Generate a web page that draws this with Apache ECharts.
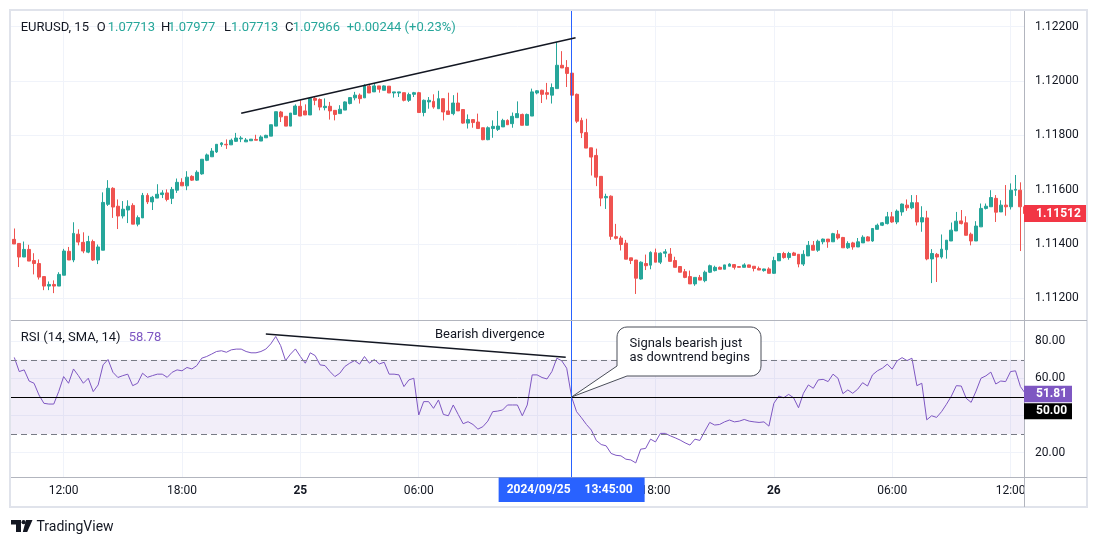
<!DOCTYPE html>
<html lang="en">
<head>
<meta charset="UTF-8">
<title>EURUSD 15 - RSI</title>
<script src="https://cdn.jsdelivr.net/npm/echarts@6/dist/echarts.min.js"></script>
<style>
  html, body { margin: 0; padding: 0; background: #fff; }
  #main { width: 1098px; height: 546px; }
</style>
</head>
<body>
<div id="main"></div>
<script>
// 15 min bars, index 0 = 24 Sep 09:30 ; each row is [open, close, low, high]
var candles = [
  [1.11417, 1.11400, 1.11400, 1.11457], [1.11402, 1.11352, 1.11315, 1.11402], [1.11352, 1.11380, 1.11352, 1.11409],
  [1.11380, 1.11337, 1.11337, 1.11397], [1.11339, 1.11328, 1.11288, 1.11366], [1.11328, 1.11278, 1.11269, 1.11343],
  [1.11280, 1.11245, 1.11230, 1.11280], [1.11245, 1.11251, 1.11230, 1.11262], [1.11251, 1.11245, 1.11219, 1.11266],
  [1.11245, 1.11288, 1.11245, 1.11296], [1.11285, 1.11374, 1.11285, 1.11382], [1.11373, 1.11341, 1.11341, 1.11389],
  [1.11341, 1.11439, 1.11333, 1.11480], [1.11436, 1.11407, 1.11395, 1.11454], [1.11406, 1.11374, 1.11366, 1.11443],
  [1.11370, 1.11409, 1.11366, 1.11430], [1.11409, 1.11341, 1.11338, 1.11416], [1.11341, 1.11389, 1.11326, 1.11398],
  [1.11377, 1.11553, 1.11377, 1.11590], [1.11546, 1.11605, 1.11540, 1.11635], [1.11605, 1.11536, 1.11496, 1.11609],
  [1.11539, 1.11503, 1.11455, 1.11564], [1.11503, 1.11528, 1.11494, 1.11558], [1.11525, 1.11539, 1.11477, 1.11561],
  [1.11542, 1.11473, 1.11473, 1.11550], [1.11473, 1.11497, 1.11465, 1.11505], [1.11496, 1.11579, 1.11496, 1.11588],
  [1.11579, 1.11555, 1.11547, 1.11587], [1.11555, 1.11572, 1.11525, 1.11577], [1.11569, 1.11583, 1.11569, 1.11620],
  [1.11582, 1.11588, 1.11569, 1.11598], [1.11588, 1.11564, 1.11557, 1.11601], [1.11568, 1.11601, 1.11547, 1.11610],
  [1.11598, 1.11627, 1.11588, 1.11641], [1.11627, 1.11614, 1.11614, 1.11642], [1.11614, 1.11646, 1.11598, 1.11668],
  [1.11649, 1.11635, 1.11632, 1.11653], [1.11635, 1.11664, 1.11632, 1.11671], [1.11658, 1.11712, 1.11655, 1.11712],
  [1.11708, 1.11728, 1.11705, 1.11733], [1.11721, 1.11742, 1.11721, 1.11753], [1.11739, 1.11767, 1.11735, 1.11767],
  [1.11766, 1.11772, 1.11758, 1.11775], [1.11767, 1.11765, 1.11750, 1.11785], [1.11765, 1.11782, 1.11765, 1.11788],
  [1.11778, 1.11790, 1.11776, 1.11809], [1.11787, 1.11790, 1.11775, 1.11797], [1.11776, 1.11783, 1.11776, 1.11790],
  [1.11780, 1.11786, 1.11780, 1.11786], [1.11785, 1.11782, 1.11782, 1.11802], [1.11779, 1.11794, 1.11779, 1.11800],
  [1.11791, 1.11800, 1.11791, 1.11802], [1.11797, 1.11839, 1.11797, 1.11839], [1.11834, 1.11887, 1.11834, 1.11887],
  [1.11886, 1.11868, 1.11849, 1.11890], [1.11870, 1.11834, 1.11834, 1.11870], [1.11834, 1.11882, 1.11834, 1.11882],
  [1.11877, 1.11908, 1.11877, 1.11914], [1.11907, 1.11871, 1.11871, 1.11929], [1.11890, 1.11875, 1.11875, 1.11914],
  [1.11875, 1.11936, 1.11875, 1.11939], [1.11936, 1.11929, 1.11911, 1.11941], [1.11932, 1.11904, 1.11892, 1.11936],
  [1.11902, 1.11907, 1.11892, 1.11936], [1.11907, 1.11890, 1.11858, 1.11923], [1.11892, 1.11877, 1.11855, 1.11892],
  [1.11880, 1.11896, 1.11880, 1.11911], [1.11893, 1.11923, 1.11893, 1.11925], [1.11917, 1.11939, 1.11914, 1.11941],
  [1.11938, 1.11948, 1.11929, 1.11960], [1.11948, 1.11935, 1.11917, 1.11954], [1.11938, 1.11982, 1.11938, 1.11988],
  [1.11981, 1.11956, 1.11956, 1.11988], [1.11960, 1.11982, 1.11960, 1.11991], [1.11982, 1.11970, 1.11957, 1.11982],
  [1.11966, 1.11982, 1.11966, 1.11984], [1.11981, 1.11956, 1.11956, 1.11981], [1.11956, 1.11960, 1.11939, 1.11960],
  [1.11956, 1.11960, 1.11941, 1.11960], [1.11957, 1.11929, 1.11925, 1.11957], [1.11929, 1.11950, 1.11923, 1.11957],
  [1.11951, 1.11957, 1.11941, 1.11960], [1.11957, 1.11884, 1.11884, 1.11960], [1.11884, 1.11929, 1.11870, 1.11932],
  [1.11923, 1.11929, 1.11898, 1.11941], [1.11925, 1.11904, 1.11898, 1.11951], [1.11898, 1.11935, 1.11898, 1.11964],
  [1.11935, 1.11886, 1.11855, 1.11935], [1.11890, 1.11877, 1.11877, 1.11957], [1.11880, 1.11919, 1.11874, 1.11948],
  [1.11919, 1.11890, 1.11890, 1.11957], [1.11895, 1.11845, 1.11843, 1.11895], [1.11845, 1.11858, 1.11825, 1.11877],
  [1.11858, 1.11847, 1.11828, 1.11858], [1.11849, 1.11825, 1.11825, 1.11880], [1.11828, 1.11784, 1.11782, 1.11828],
  [1.11784, 1.11828, 1.11782, 1.11833], [1.11825, 1.11833, 1.11791, 1.11855], [1.11822, 1.11834, 1.11816, 1.11890],
  [1.11831, 1.11855, 1.11831, 1.11861], [1.11855, 1.11839, 1.11839, 1.11859], [1.11843, 1.11870, 1.11828, 1.11884],
  [1.11865, 1.11880, 1.11865, 1.11925], [1.11877, 1.11837, 1.11837, 1.11880], [1.11837, 1.11877, 1.11837, 1.11880],
  [1.11871, 1.11960, 1.11871, 1.11972], [1.11956, 1.11964, 1.11951, 1.11966], [1.11966, 1.11951, 1.11919, 1.11968],
  [1.11957, 1.11951, 1.11932, 1.11993], [1.11948, 1.11976, 1.11917, 1.11991], [1.11972, 1.12058, 1.11972, 1.12144],
  [1.12058, 1.12048, 1.12048, 1.12110], [1.12050, 1.12028, 1.11978, 1.12077], [1.12029, 1.11948, 1.11948, 1.12073],
  [1.11951, 1.11852, 1.11845, 1.11954], [1.11855, 1.11809, 1.11790, 1.11865], [1.11810, 1.11753, 1.11753, 1.11861],
  [1.11754, 1.11720, 1.11652, 1.11754], [1.11726, 1.11646, 1.11613, 1.11751], [1.11649, 1.11569, 1.11539, 1.11649],
  [1.11570, 1.11575, 1.11529, 1.11585], [1.11576, 1.11428, 1.11415, 1.11579], [1.11427, 1.11421, 1.11417, 1.11474],
  [1.11422, 1.11398, 1.11376, 1.11430], [1.11403, 1.11344, 1.11344, 1.11415], [1.11349, 1.11339, 1.11326, 1.11349],
  [1.11341, 1.11274, 1.11216, 1.11341], [1.11271, 1.11333, 1.11269, 1.11336], [1.11328, 1.11320, 1.11304, 1.11361],
  [1.11322, 1.11369, 1.11307, 1.11373], [1.11368, 1.11333, 1.11333, 1.11383], [1.11333, 1.11366, 1.11326, 1.11369],
  [1.11366, 1.11371, 1.11351, 1.11381], [1.11363, 1.11336, 1.11336, 1.11385], [1.11339, 1.11314, 1.11314, 1.11353],
  [1.11317, 1.11296, 1.11296, 1.11317], [1.11298, 1.11277, 1.11274, 1.11308], [1.11280, 1.11253, 1.11253, 1.11302],
  [1.11253, 1.11277, 1.11246, 1.11277], [1.11277, 1.11267, 1.11267, 1.11286], [1.11265, 1.11296, 1.11259, 1.11302],
  [1.11296, 1.11320, 1.11293, 1.11324], [1.11302, 1.11314, 1.11299, 1.11320], [1.11314, 1.11307, 1.11307, 1.11317],
  [1.11307, 1.11323, 1.11307, 1.11323], [1.11318, 1.11326, 1.11318, 1.11329], [1.11324, 1.11314, 1.11306, 1.11326],
  [1.11317, 1.11314, 1.11314, 1.11317], [1.11314, 1.11323, 1.11314, 1.11329], [1.11323, 1.11314, 1.11314, 1.11324],
  [1.11318, 1.11310, 1.11299, 1.11318], [1.11310, 1.11304, 1.11304, 1.11317], [1.11302, 1.11308, 1.11298, 1.11309],
  [1.11308, 1.11292, 1.11292, 1.11314], [1.11292, 1.11339, 1.11290, 1.11353], [1.11338, 1.11365, 1.11338, 1.11365],
  [1.11365, 1.11350, 1.11346, 1.11371], [1.11350, 1.11365, 1.11342, 1.11371], [1.11367, 1.11358, 1.11357, 1.11371],
  [1.11362, 1.11326, 1.11314, 1.11362], [1.11326, 1.11362, 1.11319, 1.11377], [1.11356, 1.11395, 1.11356, 1.11411],
  [1.11395, 1.11377, 1.11377, 1.11411], [1.11377, 1.11410, 1.11371, 1.11416], [1.11408, 1.11418, 1.11399, 1.11420],
  [1.11418, 1.11408, 1.11386, 1.11418], [1.11408, 1.11438, 1.11408, 1.11441], [1.11436, 1.11422, 1.11416, 1.11451],
  [1.11424, 1.11386, 1.11386, 1.11426], [1.11386, 1.11402, 1.11382, 1.11410], [1.11404, 1.11389, 1.11379, 1.11408],
  [1.11389, 1.11408, 1.11389, 1.11422], [1.11404, 1.11425, 1.11404, 1.11432], [1.11426, 1.11411, 1.11411, 1.11429],
  [1.11411, 1.11457, 1.11408, 1.11457], [1.11454, 1.11469, 1.11454, 1.11475], [1.11469, 1.11478, 1.11466, 1.11481],
  [1.11475, 1.11500, 1.11472, 1.11518], [1.11500, 1.11481, 1.11478, 1.11518], [1.11481, 1.11521, 1.11473, 1.11527],
  [1.11518, 1.11547, 1.11504, 1.11549], [1.11543, 1.11533, 1.11522, 1.11564], [1.11533, 1.11552, 1.11528, 1.11580],
  [1.11552, 1.11481, 1.11468, 1.11580], [1.11481, 1.11497, 1.11445, 1.11539], [1.11496, 1.11345, 1.11340, 1.11522],
  [1.11345, 1.11365, 1.11256, 1.11381], [1.11362, 1.11352, 1.11260, 1.11367], [1.11352, 1.11381, 1.11346, 1.11435],
  [1.11379, 1.11414, 1.11346, 1.11414], [1.11411, 1.11451, 1.11411, 1.11479], [1.11448, 1.11484, 1.11448, 1.11518],
  [1.11485, 1.11475, 1.11472, 1.11525], [1.11478, 1.11432, 1.11432, 1.11502], [1.11436, 1.11411, 1.11395, 1.11442],
  [1.11411, 1.11466, 1.11411, 1.11484], [1.11463, 1.11531, 1.11463, 1.11549], [1.11531, 1.11539, 1.11527, 1.11549],
  [1.11537, 1.11571, 1.11537, 1.11598], [1.11568, 1.11517, 1.11481, 1.11580], [1.11518, 1.11543, 1.11518, 1.11561],
  [1.11543, 1.11537, 1.11504, 1.11617], [1.11537, 1.11598, 1.11527, 1.11623], [1.11598, 1.11601, 1.11577, 1.11654],
  [1.11598, 1.11537, 1.11374, 1.11627], [1.11537, 1.11512, 1.11510, 1.11540]
];

// RSI(14) per bar
var rsi = [
  71.3, 63.7, 64.6, 58.6, 57.4, 51.1, 46.6, 46.2, 46.2, 52.9,
  61.0, 57.4, 65.1, 61.5, 57.4, 60.1, 52.9, 56.5, 67.3, 70.2,
  63.3, 60.5, 61.5, 62.3, 56.1, 57.4, 62.8, 60.6, 61.5, 62.3,
  62.3, 60.6, 63.3, 64.6, 64.1, 65.9, 65.1, 66.9, 70.9, 71.8,
  73.1, 74.5, 74.9, 74.1, 75.4, 75.8, 75.8, 74.5, 73.8, 73.8,
  74.5, 75.8, 78.6, 82.6, 77.7, 69.6, 73.1, 75.9, 71.8, 68.2,
  73.8, 72.3, 67.3, 66.9, 63.7, 61.0, 62.8, 66.4, 68.2, 69.6,
  67.7, 71.8, 68.2, 70.2, 67.8, 68.7, 62.3, 62.3, 61.9, 55.6,
  59.2, 60.1, 40.3, 47.5, 47.5, 43.9, 48.4, 40.6, 39.9, 45.7,
  40.6, 35.6, 36.7, 35.2, 32.7, 34.0, 37.0, 42.1, 42.4, 43.0,
  45.7, 45.7, 45.7, 39.9, 45.7, 61.9, 61.9, 60.5, 59.7, 63.7,
  70.9, 69.5, 65.5, 50.0, 42.1, 38.8, 35.2, 32.2, 26.6, 24.4,
  23.7, 19.6, 18.6, 18.3, 16.5, 16.1, 14.5, 21.9, 22.3, 27.3,
  25.8, 30.4, 30.4, 29.1, 28.0, 26.8, 25.3, 24.1, 27.3, 26.6,
  31.6, 36.3, 34.9, 35.2, 36.6, 37.6, 36.6, 37.0, 37.9, 37.0,
  36.6, 36.3, 36.6, 34.3, 46.6, 50.5, 49.6, 51.4, 49.6, 44.2,
  52.0, 56.5, 54.7, 59.2, 59.5, 58.3, 62.3, 60.1, 51.8, 53.8,
  52.0, 54.2, 57.7, 55.9, 61.9, 64.1, 65.5, 67.7, 65.0, 69.5,
  71.2, 69.6, 70.9, 56.1, 57.4, 37.7, 39.9, 39.0, 42.1, 46.1,
  50.5, 56.1, 55.9, 49.3, 47.1, 53.2, 60.1, 61.4, 63.4, 57.0,
  58.6, 58.3, 63.7, 64.1, 55.6, 51.81
];

var tickIdx = [10, 34, 58, 82, 106, 130, 154, 178, 202];
var tickText = ['12:00', '18:00', '25', '06:00', '12:00', '18:00', '26', '06:00', '12:00'];
var priceTicks = [1.112, 1.114, 1.116, 1.118, 1.120, 1.122];
var rsiLabelTicks = [20, 60, 80];
var rsiGridTicks = [20, 40, 60, 80];
var rsiBand = [30, 70];
var rsiMid = 50;

// drawn lines: [bar index, value]
var priceTrend = [[46, 1.11881], [113.8, 1.12159]];
var rsiTrend = [[51, 83.9], [111.8, 71.4]];
var crossIdx = 113;

var UP = '#26a69a', DOWN = '#ef5350', PURPLE = '#7e57c2', INK = '#131722';
var GRIDC = '#f0f3fa', EDGE = '#b2b5be';
var FONT = 'Roboto, "Liberation Sans", sans-serif';

var chart = echarts.init(document.getElementById('main'));

var candleData = candles.map(function (c, i) { return [i, c[0], c[1], c[2], c[3]]; });
var rsiData = rsi.map(function (v, i) { return [i, v]; });

function timeLabel(v) {
    var k = tickIdx.indexOf(Math.round(v));
    if (k < 0) return '';
    var t = tickText[k];
    return t.indexOf(':') < 0 ? '{b|' + t + '}' : t;
}

var xCommon = {
    type: 'value', min: -0.67, max: 204.72,
    axisLine: { show: false },
    axisTick: { show: false, customValues: tickIdx },
    splitLine: { show: true, lineStyle: { color: GRIDC, width: 1 } }
};

var option = {
    animation: false,
    textStyle: { fontFamily: FONT },
    grid: [
        { left: 11, right: 74, top: 11, height: 309 },
        { left: 11, right: 74, top: 320, height: 157.3 }
    ],
    xAxis: [
        Object.assign({ gridIndex: 0, axisLabel: { show: false } }, xCommon),
        Object.assign({
            gridIndex: 1,
            axisLabel: {
                customValues: tickIdx, formatter: timeLabel, margin: 8,
                color: INK, fontSize: 12, fontFamily: FONT,
                rich: { b: { fontWeight: 'bold', fontSize: 12, color: INK, fontFamily: FONT } }
            }
        }, xCommon)
    ],
    yAxis: [
        {
            type: 'value', gridIndex: 0, position: 'right', min: 1.111201, max: 1.122578,
            axisLine: { show: false },
            axisTick: { show: false, customValues: priceTicks },
            axisLabel: {
                customValues: priceTicks, margin: 11, color: INK, fontSize: 12, fontFamily: FONT,
                formatter: function (v) { return v.toFixed(5); }
            },
            splitLine: { lineStyle: { color: GRIDC } }
        },
        {
            type: 'value', gridIndex: 1, position: 'right', min: 6.75, max: 91.47,
            axisLine: { show: false },
            axisTick: { show: false, customValues: rsiGridTicks },
            axisLabel: {
                customValues: rsiLabelTicks, margin: 11, color: INK, fontSize: 12, fontFamily: FONT,
                formatter: function (v) { return v.toFixed(2); }
            },
            splitLine: { lineStyle: { color: GRIDC } }
        }
    ],
    series: [
        {
            type: 'candlestick', xAxisIndex: 0, yAxisIndex: 0,
            data: candleData, encode: { x: 0, y: [1, 2, 3, 4] },
            barWidth: 3.4,
            itemStyle: { color: UP, color0: DOWN, borderColor: UP, borderColor0: DOWN, borderWidth: 1 },
            markLine: {
                silent: true, symbol: 'none', label: { show: false },
                lineStyle: { color: '#2962ff', width: 1, type: 'solid' },
                data: [{ xAxis: crossIdx }]
            }
        },
        {
            type: 'line', xAxisIndex: 0, yAxisIndex: 0, data: priceTrend,
            symbol: 'none', lineStyle: { color: INK, width: 1.6 }, z: 5
        },
        {
            type: 'line', xAxisIndex: 1, yAxisIndex: 1, data: rsiData,
            symbol: 'none', lineStyle: { color: PURPLE, width: 1 }, z: 4,
            markArea: {
                silent: true, itemStyle: { color: 'rgba(126,87,194,0.1)' },
                data: [[{ yAxis: rsiBand[1] }, { yAxis: rsiBand[0] }]]
            },
            markLine: {
                silent: true, symbol: 'none', label: { show: false },
                data: [
                    { yAxis: rsiBand[1], lineStyle: { color: '#787b86', type: [6, 4], width: 1 } },
                    { yAxis: rsiBand[0], lineStyle: { color: '#787b86', type: [6, 4], width: 1 } },
                    { yAxis: rsiMid, lineStyle: { color: '#000000', type: 'solid', width: 1 } },
                    { xAxis: crossIdx, lineStyle: { color: '#2962ff', type: 'solid', width: 1 } }
                ]
            }
        },
        {
            type: 'line', xAxisIndex: 1, yAxisIndex: 1, data: rsiTrend,
            symbol: 'none', lineStyle: { color: INK, width: 1.4 }, z: 5
        }
    ]
};
chart.setOption(option);

// text helper for the overlay annotations
function txt(x, y, s, color, size, extra) {
    var st = {
        text: s, x: x, y: y, fill: color, fontSize: size, fontFamily: FONT,
        align: 'left', textAlign: 'left', verticalAlign: 'middle', textVerticalAlign: 'middle'
    };
    if (extra) Object.assign(st, extra);
    return { type: 'text', silent: true, z: 120, style: st };
}
function hline(y, x1, x2, color) {
    return { type: 'line', silent: true, z: 110, shape: { x1: x1, y1: y, x2: x2, y2: y }, style: { stroke: color, lineWidth: 1 } };
}
// quarter arc points, angles in degrees (screen coords, y down)
function arc(cx, cy, r, a0, a1) {
    var pts = [];
    for (var k = 0; k <= 6; k++) {
        var a = (a0 + (a1 - a0) * k / 6) * Math.PI / 180;
        pts.push([cx + r * Math.cos(a), cy + r * Math.sin(a)]);
    }
    return pts;
}

var lastClose = candles[candles.length - 1][1];
var lastRsi = rsi[rsi.length - 1];
var priceY = chart.convertToPixel({ yAxisIndex: 0 }, lastClose);
var rsiY = chart.convertToPixel({ yAxisIndex: 1 }, lastRsi);
var crossX = chart.convertToPixel({ xAxisIndex: 1 }, crossIdx);
var tipY = chart.convertToPixel({ yAxisIndex: 1 }, rsiMid);

var G = [];
// frame and pane separators
G.push({ type: 'rect', silent: true, z: 110, shape: { x: 10, y: 10, width: 1077, height: 497 }, style: { fill: 'none', stroke: '#e0e3eb', lineWidth: 2 } });
G.push(hline(320.5, 11, 1087, EDGE));
G.push(hline(477.5, 11, 1087, EDGE));
G.push({ type: 'line', silent: true, z: 110, shape: { x1: 1024.5, y1: 11, x2: 1024.5, y2: 507 }, style: { stroke: EDGE, lineWidth: 1 } });

// header legend
G.push(txt(20.7, 27.5, 'EURUSD, 15', INK, 13));
G.push(txt(96.7, 27.5, 'O', INK, 13));
G.push(txt(107.7, 27.5, '1.07713', UP, 13));
G.push(txt(161, 27.5, 'H', INK, 13));
G.push(txt(168, 27.5, '1.07977', UP, 13));
G.push(txt(224, 27.5, 'L', INK, 13));
G.push(txt(231, 27.5, '1.07713', UP, 13));
G.push(txt(285, 27.5, 'C', INK, 13));
G.push(txt(292.7, 27.5, '1.07966', UP, 13));
G.push(txt(346.7, 27.5, '+0.00244 (+0.23%)', UP, 13));

// RSI legend
G.push(txt(20.7, 338, 'RSI (14, SMA, 14)', INK, 13));
G.push(txt(128.7, 338, '58.78', PURPLE, 13));

// annotation text
G.push(txt(435, 334.5, 'Bearish divergence', INK, 13));

// callout with tail pointing at the 50 crossing
var bx0 = 617, bx1 = 761, by0 = 327, by1 = 376, br = 10;
var callout = [[bx0 + br, by1]]
    .concat(arc(bx1 - br, by1 - br, br, 90, 0))
    .concat(arc(bx1 - br, by0 + br, br, 0, -90))
    .concat(arc(bx0 + br, by0 + br, br, -90, -180))
    .concat([[bx0, by1 - br], [crossX, tipY]]);
G.push({
    type: 'polygon', silent: true, z: 115,
    shape: { points: callout },
    style: { fill: '#ffffff', stroke: '#4a4e59', lineWidth: 1 }
});
G.push(txt(629.5, 344, 'Signals bearish just', INK, 13));
G.push(txt(629.5, 358, 'as downtrend begins', INK, 13));

// crosshair time label
G.push({ type: 'rect', silent: true, z: 118, shape: { x: crossX - 73, y: 477.5, width: 146, height: 24.5 }, style: { fill: '#2962ff' } });
G.push(txt(crossX - 33, 490, '2024/09/25', '#ffffff', 12, { align: 'center', textAlign: 'center', fontWeight: 'bold' }));
G.push(txt(crossX + 37, 490, '13:45:00', '#ffffff', 12, { align: 'center', textAlign: 'center', fontWeight: 'bold' }));

// last price label
G.push({ type: 'rect', silent: true, z: 118, shape: { x: 1024, y: priceY - 8.5, width: 62, height: 17 }, style: { fill: '#f23645' } });
G.push(txt(1036, priceY, lastClose.toFixed(5), '#ffffff', 12, { fontWeight: 'bold' }));

// RSI value label and 50 level label underneath it
G.push({ type: 'rect', silent: true, z: 118, shape: { x: 1024, y: rsiY - 8, width: 48, height: 16.5 }, style: { fill: PURPLE } });
G.push(txt(1036, rsiY + 0.3, lastRsi.toFixed(2), '#ffffff', 12, { fontWeight: 'bold' }));
G.push({ type: 'rect', silent: true, z: 118, shape: { x: 1024, y: rsiY + 9.5, width: 48, height: 16 }, style: { fill: '#000000' } });
G.push(txt(1036, rsiY + 17.5, rsiMid.toFixed(2), '#ffffff', 12, { fontWeight: 'bold' }));

// TradingView mark
G.push({ type: 'polygon', silent: true, z: 110, shape: { points: [[11, 520], [21, 520], [21, 532], [16, 532], [16, 524.5], [11, 524.5]] }, style: { fill: INK } });
G.push({ type: 'circle', silent: true, z: 110, shape: { cx: 23.6, cy: 522.2, r: 2.1 }, style: { fill: INK } });
G.push({ type: 'polygon', silent: true, z: 110, shape: { points: [[26, 520], [32.5, 520], [27.2, 532], [22.8, 532]] }, style: { fill: INK } });
G.push(txt(36.5, 527, 'TradingView', INK, 14));

chart.setOption({ graphic: { elements: G } });
</script>
</body>
</html>
